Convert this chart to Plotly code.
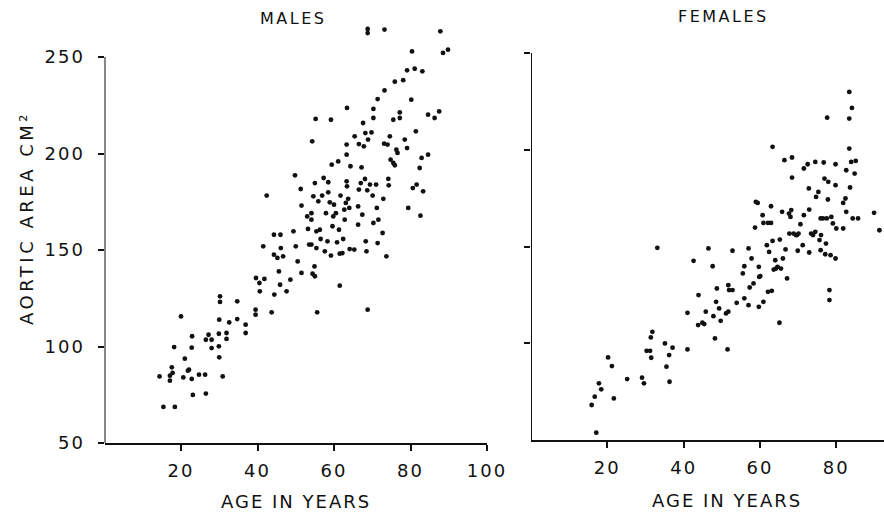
import plotly.graph_objects as go

# ---- data (age in years, aortic area cm^2) ----
male_age = [15.4, 18.4, 14.4, 17.1, 17.1, 17.6, 17.8, 18.2, 20.0, 21.0, 20.6, 21.8, 22.1, 22.8, 22.8,
            22.9, 23.1, 24.7, 26.3, 26.5, 26.5, 27.2, 28.0, 28.0, 29.9, 29.9, 30.0, 30.0, 30.2, 30.2,
            30.9, 31.9, 31.9, 32.6, 34.7, 34.7, 36.9, 36.9, 39.5, 39.5, 39.6, 40.5, 40.6, 41.8, 41.5,
            42.4, 43.7, 44.4, 44.3, 44.3, 45.2, 45.6, 45.9, 46.0, 46.1, 46.7, 47.6, 48.6, 49.4, 49.8,
            50.0, 50.5, 51.3, 51.5, 51.5, 53.0, 53.2, 53.5, 54.1, 54.1, 54.4, 54.6, 54.9, 55.0, 54.3,
            55.2, 55.4, 55.4, 55.6, 55.9, 56.3, 56.5, 56.9, 57.3, 57.6, 57.9, 58.3, 58.5, 58.5, 58.9,
            59.2, 59.4, 59.2, 59.6, 59.8, 60.0, 60.5, 60.8, 61.1, 61.3, 61.5, 61.5, 61.7, 62.2, 62.4,
            62.7, 62.8, 63.1, 63.3, 63.4, 63.4, 63.3, 63.7, 64.0, 64.1, 64.3, 65.3, 65.4, 66.3, 66.3,
            66.5, 66.5, 67.0, 67.2, 67.4, 67.6, 67.8, 68.1, 68.2, 68.3, 68.5, 68.7, 68.8, 68.8, 68.8,
            68.9, 69.4, 69.8, 70.1, 70.3, 70.3, 70.3, 71.0, 71.2, 71.4, 71.4, 71.6, 72.7, 72.9, 73.1,
            73.2, 73.2, 73.7, 74.0, 74.2, 74.3, 74.6, 74.8, 75.5, 75.5, 75.9, 76.3, 75.9, 76.6, 77.2,
            77.2, 78.1, 78.5, 79.1, 79.4, 79.1, 80.2, 80.4, 80.6, 81.1, 81.4, 81.6, 82.4, 82.6, 82.9,
            83.3, 83.1, 84.6, 84.6, 86.3, 87.5, 87.8, 88.5, 89.8, 54.1, 55.0, 63.3]
male_area = [68.7, 68.7, 84.5, 84.9, 82.3, 89.2, 86.3, 99.7, 115.6, 93.7, 84.0, 87.5, 88.0, 83.2, 99.4,
             105.3, 74.9, 85.4, 85.4, 75.6, 103.5, 106.1, 103.5, 99.2, 106.6, 100.1, 94.4, 113.9, 123.1, 126.0,
             84.5, 107.0, 103.9, 112.5, 123.4, 114.2, 111.3, 107.0, 119.1, 116.5, 135.5, 132.9, 128.6, 135.0, 151.9,
             178.2, 117.7, 126.9, 147.6, 157.9, 145.9, 138.9, 132.0, 157.9, 151.0, 146.7, 128.6, 134.6, 159.7, 188.7,
             151.9, 144.1, 181.6, 173.0, 138.1, 167.4, 160.9, 152.8, 169.1, 152.8, 137.7, 177.8, 141.5, 184.7, 206.3,
             217.9, 159.7, 151.0, 117.7, 175.2, 160.5, 155.7, 178.2, 187.3, 149.3, 169.1, 154.5, 185.1, 179.9, 174.7,
             217.5, 194.2, 147.1, 162.3, 167.4, 173.5, 169.1, 154.0, 195.9, 160.5, 148.1, 131.5, 178.2, 148.4, 155.7,
             170.9, 165.7, 174.4, 185.6, 183.0, 223.6, 204.6, 176.5, 171.8, 150.5, 193.4, 150.2, 208.9, 163.1, 172.6,
             204.9, 181.3, 184.7, 192.8, 168.3, 215.8, 203.7, 186.8, 210.6, 154.5, 149.3, 180.9, 119.1, 264.5, 262.4,
             207.2, 183.9, 210.9, 178.2, 218.4, 223.1, 164.0, 183.9, 171.8, 153.6, 228.2, 165.7, 158.8, 176.5, 205.1,
             232.7, 264.2, 146.7, 204.6, 186.9, 183.5, 208.9, 196.8, 195.1, 217.5, 193.9, 202.0, 237.2, 200.3, 221.3,
             218.4, 238.0, 207.2, 202.8, 171.8, 243.1, 227.9, 252.9, 182.1, 243.9, 211.5, 183.9, 192.5, 167.8, 197.7,
             180.4, 242.6, 199.4, 220.1, 218.4, 221.8, 263.3, 252.1, 253.8, 165.7, 136.4, 199.4]

female_age = [17.1, 15.9, 16.7, 17.8, 18.4, 20.2, 21.2, 21.7, 25.2, 29.1, 29.6, 30.3, 31.2, 31.4, 31.8,
              31.5, 33.1, 35.1, 35.5, 36.2, 36.3, 37.1, 41.0, 41.0, 42.6, 43.9, 43.8, 44.9, 45.4, 45.8,
              46.5, 47.6, 47.8, 48.2, 48.5, 48.7, 49.3, 49.7, 51.1, 51.7, 51.5, 51.7, 51.9, 52.8, 52.8,
              53.9, 55.5, 55.9, 55.9, 57.0, 57.0, 57.3, 57.8, 58.3, 58.7, 58.9, 59.4, 59.7, 59.7, 59.8,
              60.1, 60.7, 60.9, 60.9, 61.8, 62.1, 62.1, 62.4, 62.9, 63.1, 62.9, 63.3, 63.3, 63.6, 64.2,
              64.0, 64.6, 65.1, 65.2, 65.5, 65.8, 66.0, 66.4, 66.7, 67.1, 67.6, 67.7, 68.0, 68.2, 68.4,
              68.4, 68.8, 69.4, 69.7, 69.9, 70.1, 70.6, 71.2, 71.5, 71.5, 72.5, 72.8, 72.9, 72.9, 73.4,
              73.9, 74.5, 74.5, 74.7, 75.3, 75.6, 75.9, 75.9, 76.0, 76.5, 76.7, 76.9, 77.1, 77.3, 77.5,
              77.6, 77.8, 77.9, 78.2, 78.2, 78.5, 78.7, 79.1, 79.8, 79.8, 79.8, 80.0, 81.8, 81.8, 82.4,
              82.6, 82.6, 83.4, 83.4, 83.4, 83.6, 83.9, 84.1, 84.3, 84.8, 85.1, 85.7, 89.9, 91.3]
female_area = [53.8, 68.1, 72.4, 79.3, 76.2, 92.7, 88.2, 71.5, 81.5, 82.2, 79.3, 96.1, 96.1, 103.0, 105.9,
               92.5, 149.3, 99.9, 87.9, 93.9, 80.1, 97.7, 96.8, 115.7, 142.6, 124.9, 109.4, 110.6, 109.9, 116.3,
               149.0, 139.8, 114.0, 102.5, 121.4, 128.3, 118.0, 111.6, 115.4, 116.3, 96.8, 130.0, 127.5, 127.5, 147.8,
               120.9, 136.1, 139.8, 123.2, 149.0, 119.7, 128.8, 143.8, 130.9, 159.8, 173.1, 172.5, 139.5, 118.8, 134.3,
               134.7, 166.2, 121.4, 162.2, 150.7, 162.2, 126.6, 147.2, 162.2, 127.1, 170.8, 201.5, 152.9, 138.1, 138.6,
               142.9, 139.5, 110.6, 153.6, 138.6, 167.9, 143.8, 194.6, 148.5, 133.5, 167.0, 156.7, 165.3, 168.8, 196.0,
               185.6, 156.7, 155.9, 155.9, 147.8, 156.7, 161.5, 150.7, 166.2, 190.3, 192.5, 180.0, 169.1, 146.9, 156.7,
               155.9, 193.7, 157.6, 175.6, 178.2, 153.3, 148.1, 164.5, 155.9, 164.5, 193.4, 185.1, 146.0, 151.5, 164.5,
               216.6, 174.3, 183.4, 127.5, 122.3, 145.5, 165.3, 161.9, 181.7, 192.5, 143.8, 159.3, 159.3, 172.5, 174.8,
               189.4, 167.9, 229.9, 216.1, 200.6, 180.5, 193.7, 221.6, 164.5, 187.7, 194.2, 164.5, 167.4, 158.4]

male_xticks = [20, 40, 60, 80, 100]
female_xticks = [20, 40, 60, 80]
male_yticks = [50, 100, 150, 200, 250]
female_yticks = [100, 150, 200, 250]

FONT = "DejaVu Sans"
INK = "#111111"
W, H = 884, 513
Y_TOP = 268  # headroom above the 250 tick for the highest points


def spaced(t, px):
    return f"<span style='letter-spacing:{px}px'>{t}</span>"


fig = go.Figure()
fig.add_trace(go.Scatter(x=male_age, y=male_area, mode="markers", xaxis="x", yaxis="y",
                         marker=dict(size=4.8, color=INK), cliponaxis=False, showlegend=False))
fig.add_trace(go.Scatter(x=female_age, y=female_area, mode="markers", xaxis="x2", yaxis="y2",
                         marker=dict(size=4.8, color=INK), cliponaxis=False, showlegend=False))

axis_common = dict(showgrid=False, zeroline=False, automargin=False,
                   linecolor=INK, linewidth=2,
                   ticks="outside", ticklen=6, tickwidth=2, tickcolor=INK,
                   tickfont=dict(family=FONT, size=18, color=INK))

# pixel geometry of the two panels (y of value 50 and value 250)
m_y50, m_y250 = 443, 57
f_y50, f_y250 = 440, 53
m_top = m_y250 - (Y_TOP - 250) * (m_y50 - m_y250) / 200
f_top = f_y250 - (Y_TOP - 250) * (f_y50 - f_y250) / 200

fig.update_layout(
    width=W, height=H, template="none",
    margin=dict(l=0, r=0, t=0, b=0, pad=0),
    paper_bgcolor="white", plot_bgcolor="white", showlegend=False,
    xaxis=dict(domain=[104.5 / W, 487 / W], range=[0, 100], tickvals=male_xticks,
               ticktext=[spaced(str(v), 2) for v in male_xticks],
               anchor="y", showline=True, ticklabelstandoff=4, **axis_common),
    yaxis=dict(domain=[(H - m_y50) / H, (H - m_top) / H], range=[50, Y_TOP], tickvals=male_yticks,
               ticktext=[spaced(str(v), 2) for v in male_yticks],
               anchor="x", showline=False, ticklabelstandoff=9, **axis_common),
    xaxis2=dict(domain=[531 / W, 1.0], range=[0, 92.5], tickvals=female_xticks,
                ticktext=[spaced(str(v), 2) for v in female_xticks],
                anchor="y2", showline=True, ticklabelstandoff=4, **axis_common),
    yaxis2=dict(domain=[(H - f_y50) / H, (H - f_top) / H], range=[50, Y_TOP], tickvals=female_yticks,
                anchor="x2", showline=False, showticklabels=False, **axis_common),
)

# vertical axis lines only up to 250 (points may rise above)
for xr, yr in (("x", "y"), ("x2", "y2")):
    fig.add_shape(type="line", xref=xr, yref=yr, x0=0, x1=0, y0=50, y1=250,
                  line=dict(color=INK, width=2))


def label(text, x, y, size=18, angle=0, sp=2):
    fig.add_annotation(text=spaced(text, sp), x=x / W, y=1 - y / H, xref="paper", yref="paper",
                       xanchor="center", yanchor="middle", showarrow=False, textangle=angle,
                       font=dict(family=FONT, size=size, color=INK))


label("MALES", 293, 18, size=16, sp=2.5)
label("FEMALES", 723, 16, size=16, sp=2.5)
label("AGE IN YEARS", 296, 501, size=18, sp=2)
label("AGE IN YEARS", 727, 500, size=18, sp=2)
label("AORTIC AREA CM²", 26, 218, size=18, angle=-90, sp=3.5)

fig.write_html("out.html")
